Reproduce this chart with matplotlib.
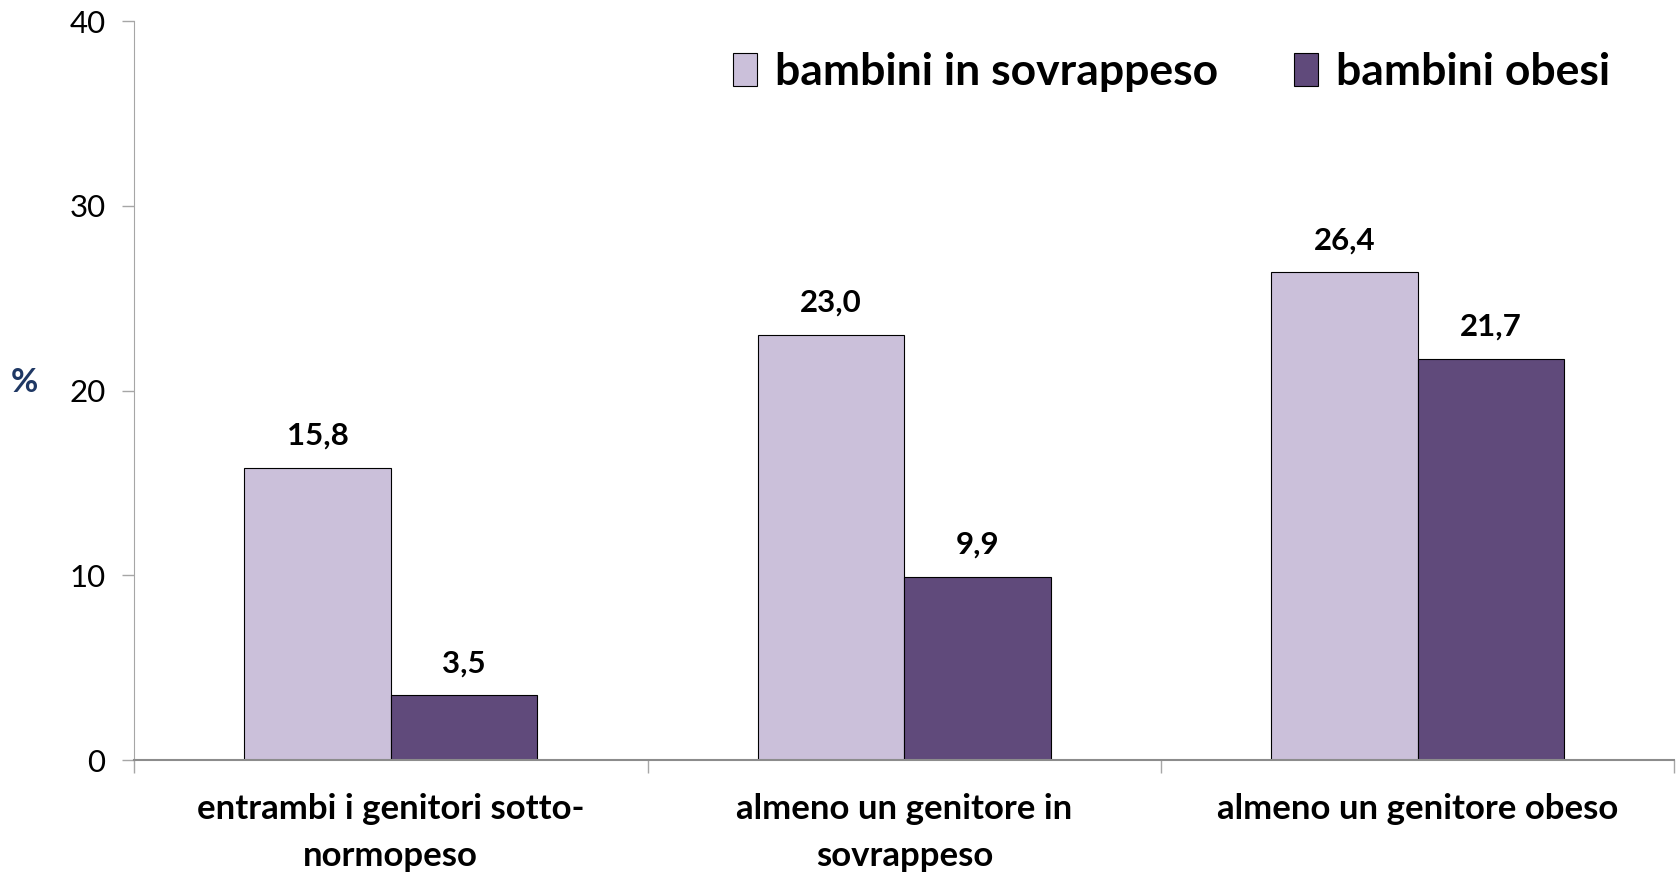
import numpy as np
import matplotlib
matplotlib.use("Agg")
import matplotlib.pyplot as plt
from matplotlib.ticker import FixedLocator

plt.rcParams['font.family'] = ['Lato', 'DejaVu Sans']

categories = ["entrambi i genitori sotto-\nnormopeso",
              "almeno un genitore in\nsovrappeso",
              "almeno un genitore obeso"]
sovrappeso = [15.8, 23.0, 26.4]
obesi = [3.5, 9.9, 21.7]
series_names = ["bambini in sovrappeso", "bambini obesi"]
y_ticks = [0, 10, 20, 30, 40]

LIGHT = "#cbc0da"
DARK = "#604a7b"
AXIS_GRAY = "#a6a6a6"

fig = plt.figure(figsize=(16.78, 8.72), dpi=100)
ax = fig.add_axes([0.0799, 0.1284, 0.918, 0.8475])

x = np.arange(len(categories))
w = 0.285
b1 = ax.bar(x - w / 2, sovrappeso, w, color=LIGHT, edgecolor="black",
            linewidth=0.8, label=series_names[0])
b2 = ax.bar(x + w / 2, obesi, w, color=DARK, edgecolor="black",
            linewidth=0.8, label=series_names[1])

for bars, vals in ((b1, sovrappeso), (b2, obesi)):
    for rect, v in zip(bars, vals):
        ax.annotate(("%.1f" % v).replace(".", ","),
                    xy=(rect.get_x() + rect.get_width() / 2, v),
                    xytext=(0, 13), textcoords="offset points",
                    ha="center", va="bottom",
                    fontsize=22.5, fontweight="bold")

ax.set_xlim(-0.5, 2.5)
ax.set_ylim(0, 40)
ax.set_yticks(y_ticks)
ax.tick_params(axis="y", labelsize=22.5, length=8.6, width=1,
               color=AXIS_GRAY, pad=12)

ax.set_xticks(x)
ax.set_xticklabels(categories, fontsize=25, fontweight="bold",
                   linespacing=1.55)
ax.tick_params(axis="x", which="major", length=0, pad=24)
ax.xaxis.set_minor_locator(FixedLocator([-0.5, 0.5, 1.5, 2.5]))
ax.tick_params(axis="x", which="minor", length=9.5, width=1,
               color=AXIS_GRAY)

for s in ("top", "right"):
    ax.spines[s].set_visible(False)
ax.spines["left"].set_color(AXIS_GRAY)
ax.spines["bottom"].set_color("#8c8c8c")
ax.spines["bottom"].set_linewidth(1.5)

fig.text(24 / 1678, 1 - 382 / 872, "%", color="#1f3864", fontsize=24,
         fontweight="bold", ha="center", va="center")

leg = ax.legend(loc="center left", bbox_to_anchor=(733 / 1678, 1 - 72 / 872),
                bbox_transform=fig.transFigure, ncol=2, frameon=False,
                prop={"size": 32, "weight": "bold"},
                handlelength=0.55, handleheight=0.75, handletextpad=0.4,
                columnspacing=1.7, borderpad=0, borderaxespad=0)

fig.savefig("out.png", dpi=100)
